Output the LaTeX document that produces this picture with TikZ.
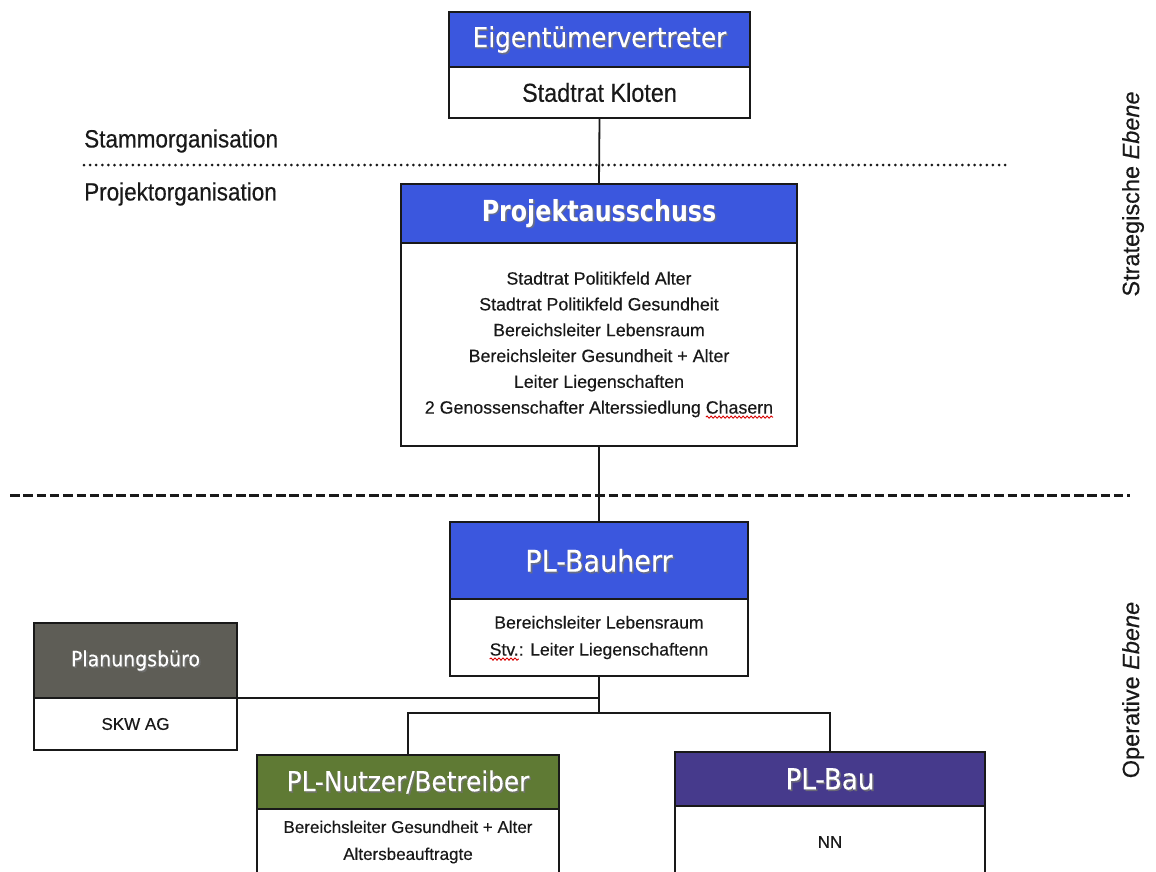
\documentclass[tikz,border=0pt]{standalone}
\usepackage{fontspec}
\setmainfont{Liberation Sans}[FakeBold=0.35]
\newfontfamily\condfont[FakeStretch=0.9,FakeBold=0.35]{Liberation Sans}
\newfontfamily\hdrfont[FakeStretch=0.9,FakeBold=0.25]{DejaVu Sans}
\newfontfamily\hdrboldfont[FakeStretch=0.82]{DejaVu Sans Bold}
\usetikzlibrary{decorations.pathmorphing}
\definecolor{hblue}{RGB}{59,87,222}
\definecolor{hgray}{RGB}{94,93,86}
\definecolor{hgreen}{RGB}{95,122,52}
\definecolor{hpurple}{RGB}{70,58,140}
\definecolor{ink}{RGB}{25,25,25}
\newlength\splw
\newcommand\spl[1]{\settowidth\splw{#1}\rlap{#1}\tikz[baseline=0pt,x=1pt,y=1pt]{\useasboundingbox (0,0) rectangle (\splw,0.1);\draw[draw=red!85!black,fill=none,line width=0.9pt,decorate,decoration={snake,amplitude=1.1pt,segment length=4pt}] (0,-3.5) -- (\splw,-3.5);}}
\newcommand\htext[3]{%
  \node[hdrshadow,#3] (#1s) at ([shift={(1.6,1.6)}]#1.center) {#2};
  \node[hdrtxt,#3] (#1t) at (#1.center) {#2};}
\begin{document}
\begin{tikzpicture}[x=1pt,y=-1pt,
  box/.style={draw=ink,line width=1.8pt,rectangle,inner sep=0pt,outer sep=0pt},
  hdr/.style={box,anchor=north west},
  bodybox/.style={box,fill=white,anchor=north,text=ink,align=center},
  hdrtxt/.style={text=white,inner sep=0pt},
  hdrshadow/.style={text=black!55,inner sep=0pt,opacity=0.8},
  conn/.style={draw=ink,line width=1.8pt}]
\useasboundingbox (0,0) rectangle (1156,871);
\clip (0,0) rectangle (1156,871);
\fill[white] (0,0) rectangle (1156,871);

% separators
\draw[ink,line width=3pt,line cap=round,dash pattern=on 0pt off 6.1pt] (84,165) -- (1008,165);
\draw[ink,line width=3pt,dash pattern=on 9.5pt off 3.8pt] (10,495) -- (1130,495);

% labels
\node[anchor=west,inner sep=0pt,text=ink,font=\condfont\fontsize{25}{28}\selectfont] (stamm) at (84,141) {Stammorganisation};
\node[anchor=west,inner sep=0pt,text=ink,font=\condfont\fontsize{25}{28}\selectfont] (projorg) at (84,194) {Projektorganisation};
\node[rotate=90,inner sep=0pt,text=ink,font=\fontsize{23.5}{26}\selectfont] (strat) at (1133,194) {Strategische \textit{Ebene}};
\node[rotate=90,inner sep=0pt,text=ink,font=\fontsize{23.5}{26}\selectfont] (oper) at (1133,690) {Operative \textit{Ebene}};

% Eigentuemervertreter
\node[hdr,fill=hblue,minimum width=301pt,minimum height=55pt] (eh) at (449,12) {};
\node[bodybox,minimum width=301pt,minimum height=51pt,font=\condfont\fontsize{26}{28}\selectfont] (eb) at (eh.south) {Stadtrat Kloten};
\htext{eh}{Eigentümervertreter}{font=\hdrfont\fontsize{27.5}{30}\selectfont}

% Projektausschuss
\node[hdr,fill=hblue,minimum width=396pt,minimum height=59pt] (ph) at (401,184) {};
\node[bodybox,minimum width=396pt,minimum height=203pt,font=\fontsize{17.8}{25.8}\selectfont] (pb) at (ph.south) {Stadtrat Politikfeld Alter\\Stadtrat Politikfeld Gesundheit\\Bereichsleiter Lebensraum\\Bereichsleiter Gesundheit + Alter\\Leiter Liegenschaften\\2 Genossenschafter Alterssiedlung \spl{Chasern}};
\htext{ph}{Projektausschuss}{font=\hdrboldfont\fontsize{29}{32}\selectfont}

% PL-Bauherr
\node[hdr,fill=hblue,minimum width=298pt,minimum height=77pt] (bh) at (450,522) {};
\node[bodybox,minimum width=298pt,minimum height=77pt,font=\fontsize{17.6}{27}\selectfont] (bb) at (bh.south) {Bereichsleiter Lebensraum\\\spl{Stv.}: Leiter Liegenschaftenn};
\htext{bh}{PL-Bauherr}{font=\hdrfont\fontsize{30}{33}\selectfont}

% Planungsbuero
\node[hdr,fill=hgray,minimum width=203pt,minimum height=75pt] (gh) at (34,623) {};
\node[bodybox,minimum width=203pt,minimum height=52pt,font=\fontsize{17}{20}\selectfont] (gb) at (gh.south) {SKW AG};
\htext{gh}{Planungsbüro}{font=\hdrfont\fontsize{21}{24}\selectfont}

% PL-Nutzer/Betreiber
\node[hdr,fill=hgreen,minimum width=302pt,minimum height=54pt] (nh) at (257,755) {};
\node[bodybox,minimum width=302pt,minimum height=66pt,font=\fontsize{17}{27}\selectfont] (nb) at (nh.south) {Bereichsleiter Gesundheit + Alter\\Altersbeauftragte};
\htext{nh}{PL-Nutzer/Betreiber}{font=\hdrfont\fontsize{27.5}{30}\selectfont}

% PL-Bau
\node[hdr,fill=hpurple,minimum width=310pt,minimum height=54pt] (uh) at (675,752) {};
\node[bodybox,minimum width=310pt,minimum height=72pt,font=\fontsize{17}{20}\selectfont] (ub) at (uh.south) {NN};
\htext{uh}{PL-Bau}{font=\hdrfont\fontsize{29}{32}\selectfont}

% connectors
\coordinate (j1) at (599,698);
\coordinate (j2) at (599,713);
\draw[conn] (eb.south) -- (ph.north);
\draw[conn] (pb.south) -- (bh.north);
\draw[conn] (bb.south) -- (j2);
\draw[conn] (gh.south east) -- (j1);
\draw[conn] (nh.north) |- (j2) -| (uh.north);
\end{tikzpicture}
\end{document}
